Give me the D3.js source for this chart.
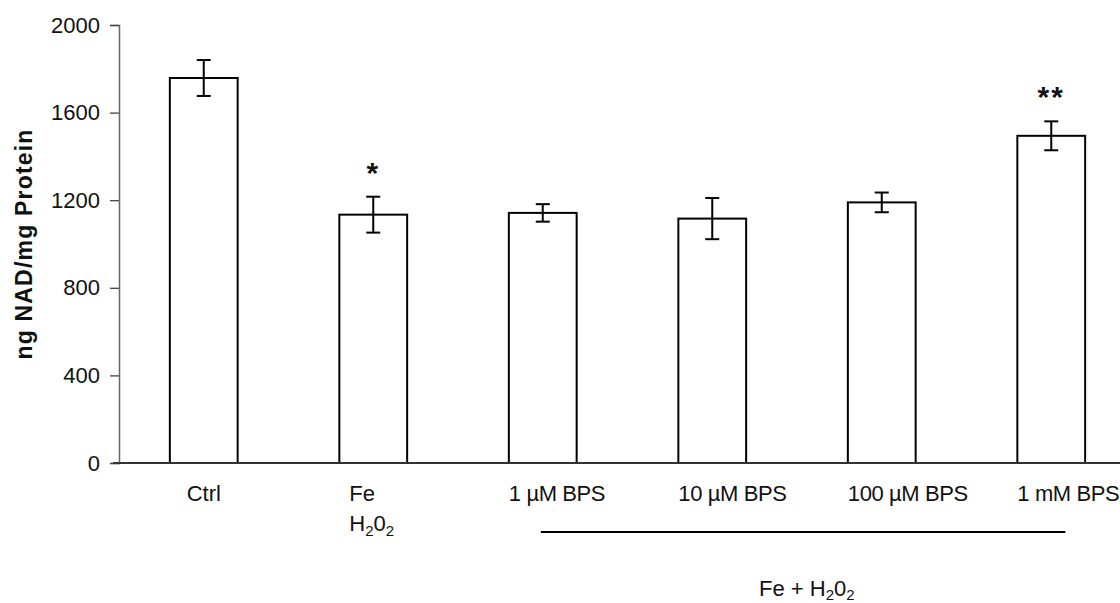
<!DOCTYPE html>
<html>
<head>
<meta charset="utf-8">
<script src="https://cdn.jsdelivr.net/npm/d3@7"></script>
<style>
  body { margin: 0; background: #fff; }
  text { font-family: "Liberation Sans", Arial, sans-serif; fill: #111; }
</style>
</head>
<body>
<svg id="drawing_region"></svg>
<script>
// data
const categories = ['Ctrl', 'Fe', '1 µM', '10 µM', '100 µM', '1 mM'];
const means = [1758, 1134, 1142, 1116, 1190, 1494];
const errors = [82, 82, 40, 94, 45, 66];
const stars = ['', '*', '', '', '', '**'];
const yTicks = [0, 400, 800, 1200, 1600, 2000];

const width = 1120, height = 603;
const margin = {top: 25, left: 119, bottom: 140};
const fontSize = '22px';

const svg = d3.select('#drawing_region')
    .attr('width', width)
    .attr('height', height);

const yscale = d3.scaleLinear()
    .domain([0, 2000])
    .range([height - margin.bottom, margin.top]);

const xscale = d3.scaleBand()
    .domain(categories)
    .range([margin.left, margin.left + 1017])
    .paddingInner(0.6)
    .paddingOuter(0.3);

// y axis
const yaxis = d3.axisLeft(yscale)
    .tickValues(yTicks)
    .tickSize(9)
    .tickPadding(10)
    .tickFormat(d3.format('d'));

const yg = svg.append('g')
    .attr('transform', `translate(${margin.left},0)`)
    .call(yaxis);
yg.select('.domain').attr('stroke', '#666').attr('stroke-width', 1.5);
yg.selectAll('.tick line').attr('stroke', '#444').attr('stroke-width', 1.3);
yg.selectAll('.tick text')
    .style('font-size', fontSize)
    .attr('fill', '#111');

// y title
svg.append('text')
    .attr('transform', `translate(32, ${(yscale(0) + yscale(2000)) / 2}) rotate(-90)`)
    .attr('text-anchor', 'middle')
    .style('font-size', '23px')
    .style('font-weight', 'bold')
    .style('letter-spacing', '1.2px')
    .text('ng NAD/mg Protein');

// bars
svg.selectAll('rect.bar')
    .data(categories)
    .enter()
    .append('rect')
    .attr('class', 'bar')
    .attr('x', d => xscale(d))
    .attr('y', (d, i) => yscale(means[i]))
    .attr('width', xscale.bandwidth())
    .attr('height', (d, i) => yscale(0) - yscale(means[i]))
    .attr('fill', '#fff')
    .attr('stroke', '#000')
    .attr('stroke-width', 2);

// x axis line
svg.append('line')
    .attr('x1', margin.left - 6)
    .attr('x2', width)
    .attr('y1', yscale(0))
    .attr('y2', yscale(0))
    .attr('stroke', '#333')
    .attr('stroke-width', 2);

// error bars + significance marks
const cx = d => xscale(d) + xscale.bandwidth() / 2;
const eb = svg.append('g').attr('stroke', '#000').attr('stroke-width', 2);
categories.forEach((c, i) => {
    const top = yscale(means[i] + errors[i]);
    const bot = yscale(means[i] - errors[i]);
    eb.append('line').attr('x1', cx(c)).attr('x2', cx(c)).attr('y1', top).attr('y2', bot);
    eb.append('line').attr('x1', cx(c) - 7).attr('x2', cx(c) + 7).attr('y1', top).attr('y2', top);
    eb.append('line').attr('x1', cx(c) - 7).attr('x2', cx(c) + 7).attr('y1', bot).attr('y2', bot);
    if (stars[i]) {
        svg.append('text')
            .attr('x', cx(c))
            .attr('y', top - 14)
            .attr('text-anchor', 'middle')
            .style('font-size', '30px')
            .style('font-weight', 'bold')
            .style('letter-spacing', '2px')
            .text(stars[i]);
    }
});

// category labels
const labelY = yscale(0) + 38;
svg.append('text')
    .attr('x', cx('Ctrl'))
    .attr('y', labelY)
    .attr('text-anchor', 'middle')
    .style('font-size', fontSize)
    .text('Ctrl');

svg.append('text')
    .attr('x', xscale('Fe') + 10)
    .attr('y', labelY)
    .style('font-size', fontSize)
    .text('Fe');
const h2o2 = svg.append('text')
    .attr('x', xscale('Fe') + 10)
    .attr('y', labelY + 30)
    .style('font-size', fontSize);
h2o2.append('tspan').text('H');
h2o2.append('tspan').attr('dy', 5).style('font-size', '15px').text('2');
h2o2.append('tspan').attr('dy', -5).text('0');
h2o2.append('tspan').attr('dy', 5).style('font-size', '15px').text('2');

categories.slice(2).forEach(c => {
    svg.append('text')
        .attr('x', xscale(c))
        .attr('y', labelY)
        .style('font-size', fontSize)
        .style('letter-spacing', '-0.4px')
        .text(c + ' BPS');
});

// bracket line under treated groups
svg.append('line')
    .attr('x1', xscale('1 µM') + 32)
    .attr('x2', xscale('1 mM') + 48)
    .attr('y1', labelY + 31)
    .attr('y2', labelY + 31)
    .attr('stroke', '#000')
    .attr('stroke-width', 2);

const grp = svg.append('text')
    .attr('x', 759)
    .attr('y', 596)
    .style('font-size', fontSize);
grp.append('tspan').text('Fe + H');
grp.append('tspan').attr('dy', 4).style('font-size', '15px').text('2');
grp.append('tspan').attr('dy', -4).text('0');
grp.append('tspan').attr('dy', 4).style('font-size', '15px').text('2');
</script>
</body>
</html>
